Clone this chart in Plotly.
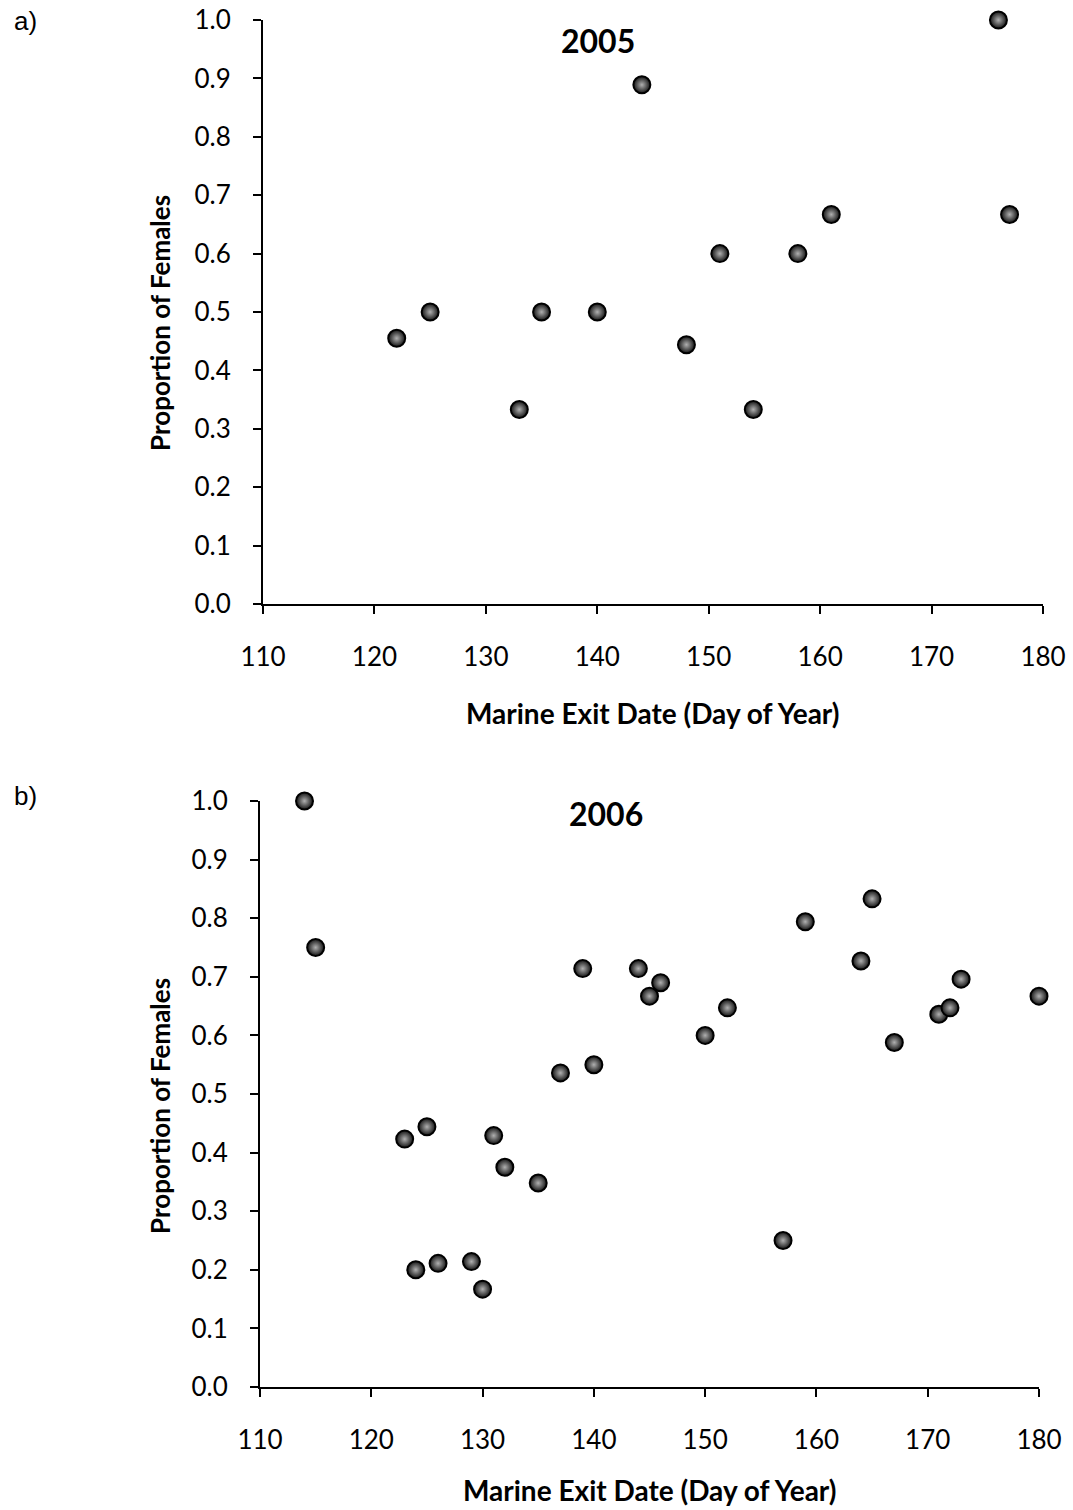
import plotly.graph_objects as go

W, H = 1073, 1510

# 2005 season: marine exit date (day of year) vs proportion of females
day_2005 = [122, 125, 133, 135, 140, 144, 148, 151, 154, 158, 161, 176, 177]
prop_2005 = [0.455, 0.5, 0.333, 0.5, 0.5, 0.889, 0.444, 0.6, 0.333, 0.6, 0.667, 1.0, 0.667]

# 2006 season
day_2006 = [114, 115, 123, 124, 125, 126, 129, 130, 131, 132, 135, 137, 139, 140,
            144, 145, 146, 150, 152, 157, 159, 164, 165, 167, 171, 172, 173, 180]
prop_2006 = [1.0, 0.75, 0.423, 0.2, 0.444, 0.211, 0.214, 0.167, 0.429, 0.375, 0.348, 0.536, 0.714, 0.55,
             0.714, 0.667, 0.69, 0.6, 0.647, 0.25, 0.794, 0.727, 0.833, 0.588, 0.636, 0.647, 0.696, 0.667]

x_ticks = [110, 120, 130, 140, 150, 160, 170, 180]
y_ticks = [0.0, 0.1, 0.2, 0.3, 0.4, 0.5, 0.6, 0.7, 0.8, 0.9, 1.0]

FAMILY = "Lato, 'Open Sans', sans-serif"
TICK_FONT = dict(family=FAMILY, size=26, color="black")


def px_x(p):
    return p / W


def px_y(p):
    return 1 - p / H


marker = dict(
    size=17,
    color="#141414",
    line=dict(color="black", width=2),
    gradient=dict(type="radial", color="#b0b0b0"),
)

fig = go.Figure()
fig.add_trace(go.Scatter(x=day_2005, y=prop_2005, mode="markers", marker=marker,
                         xaxis="x", yaxis="y", cliponaxis=False, showlegend=False))
fig.add_trace(go.Scatter(x=day_2006, y=prop_2006, mode="markers", marker=marker,
                         xaxis="x2", yaxis="y2", cliponaxis=False, showlegend=False))


def xaxis(domain, anchor):
    return dict(domain=domain, anchor=anchor, range=[110, 180], tickvals=x_ticks,
                ticktext=[str(v) for v in x_ticks], showgrid=False, zeroline=False,
                showline=True, linecolor="black", linewidth=2, ticks="outside",
                ticklen=8, tickwidth=2, tickcolor="black", tickfont=TICK_FONT,
                ticklabelstandoff=21, automargin=False)


def yaxis(domain, anchor):
    return dict(domain=domain, anchor=anchor, range=[0, 1], tickvals=y_ticks,
                ticktext=[f"{v:.1f}" for v in y_ticks], showgrid=False, zeroline=False,
                showline=True, linecolor="black", linewidth=2, ticks="outside",
                ticklen=8, tickwidth=2, tickcolor="black", tickfont=TICK_FONT,
                ticklabelstandoff=17, automargin=False)


annotations = []


def text(x, y, s, font, angle=0):
    annotations.append(dict(x=px_x(x), y=px_y(y), xref="paper", yref="paper", text=s,
                            showarrow=False, font=font, textangle=angle,
                            xanchor="center", yanchor="middle"))


x_title_font = dict(family=FAMILY, size=28, color="black", weight="bold")
y_title_font = dict(family=FAMILY, size=26, color="black", weight="bold")
year_font = dict(family=FAMILY, size=32, color="black", weight="bold")
panel_font = dict(family="'Liberation Sans', Arial, sans-serif", size=26, color="black")

# panel a)
text(25, 21, "a)", panel_font)
text(598, 40, "2005", year_font)
text(160, 323, "Proportion of Females", y_title_font, -90)
text(652, 713, "Marine Exit Date (Day of Year)", x_title_font)

# panel b)
text(25, 796, "b)", panel_font)
text(606, 813, "2006", year_font)
text(160, 1106, "Proportion of Females", y_title_font, -90)
text(649, 1490, "Marine Exit Date (Day of Year)", x_title_font)

fig.update_layout(
    width=W, height=H,
    margin=dict(l=0, r=0, t=0, b=0, autoexpand=False),
    paper_bgcolor="white", plot_bgcolor="white",
    xaxis=xaxis([px_x(263), px_x(1043)], "y"),
    yaxis=yaxis([px_y(604), px_y(20)], "x"),
    xaxis2=xaxis([px_x(260), px_x(1039)], "y2"),
    yaxis2=yaxis([px_y(1387), px_y(801)], "x2"),
    annotations=annotations,
)

fig.write_html("out.html")
